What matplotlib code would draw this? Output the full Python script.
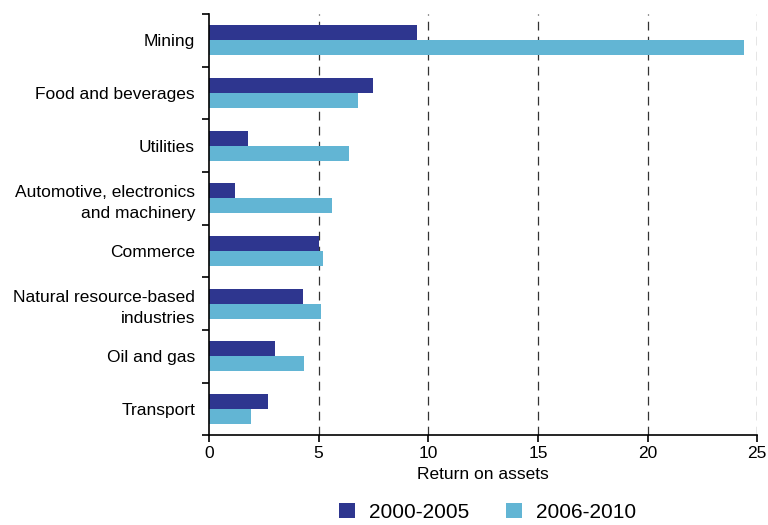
import matplotlib.pyplot as plt
import numpy as np

plt.rcParams['font.family'] = ['Liberation Sans', 'DejaVu Sans']

categories = ['Mining', 'Food and beverages', 'Utilities',
              'Automotive, electronics\nand machinery', 'Commerce',
              'Natural resource-based\nindustries', 'Oil and gas', 'Transport']
s2000_2005 = [9.5, 7.5, 1.8, 1.2, 5.0, 4.3, 3.0, 2.7]
s2006_2010 = [24.4, 6.8, 6.4, 5.6, 5.2, 5.1, 4.35, 1.9]

dark = '#2e368f'
light = '#62b5d4'

fig = plt.figure(figsize=(7.68, 5.25), dpi=100)
ax = fig.add_axes([0.272, 0.171, 0.714, 0.802])

y = np.arange(len(categories))
h = 0.285
ax.barh(y - h/2, s2000_2005, height=h, color=dark, label='2000-2005')
ax.barh(y + h/2, s2006_2010, height=h, color=light, label='2006-2010')

ax.set_ylim(len(categories) - 0.5, -0.5)
ax.set_xlim(0, 25)
ax.set_xticks([0, 5, 10, 15, 20, 25])
ax.set_yticks(y)
ax.set_yticklabels(categories, fontsize=12.5, multialignment='right', linespacing=1.5)
ax.tick_params(axis='y', length=0, pad=10)
ax.set_yticks(np.arange(len(categories) + 1) - 0.5, minor=True)
ax.tick_params(axis='y', which='minor', length=5, width=1.2, direction='out')
ax.tick_params(axis='x', labelsize=12.5, length=5, width=1.2, direction='out', pad=3)
for v in [5, 10, 15, 20, 25]:
    ax.axvline(v, color='#333333', linestyle=(0, (7, 5)), linewidth=0.9, zorder=0)

for s in ['top', 'right']:
    ax.spines[s].set_visible(False)
ax.spines['left'].set_linewidth(1.2)
ax.spines['bottom'].set_linewidth(1.2)
ax.set_xlabel('Return on assets', fontsize=12.5, labelpad=4)

fig.legend(loc='lower center', bbox_to_anchor=(0.635, -0.03), ncol=2, frameon=False,
           fontsize=15, handlelength=0.75, handleheight=0.75, handletextpad=0.7,
           columnspacing=1.75)

fig.savefig('out.png', dpi=100)
